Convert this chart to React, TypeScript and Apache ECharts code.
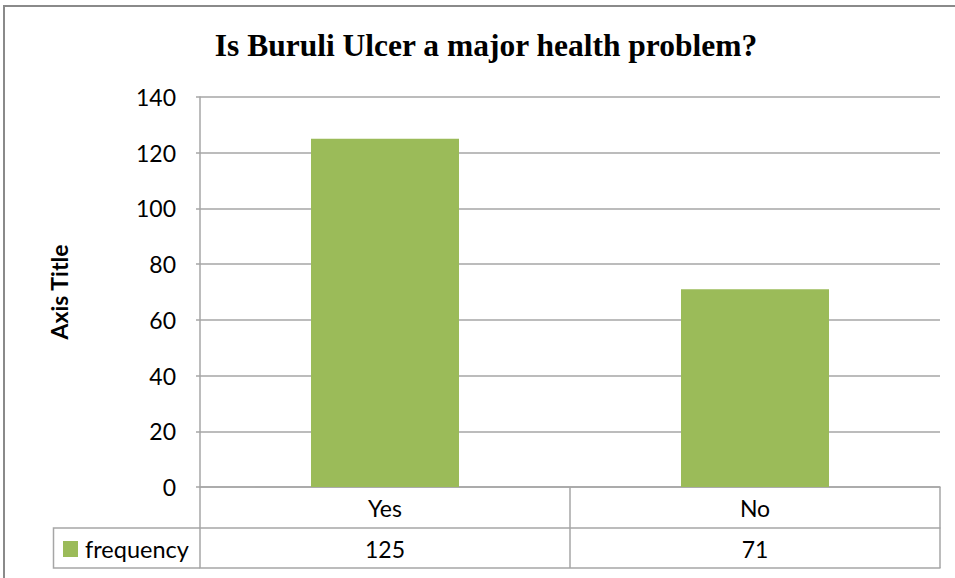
import React, { useEffect, useRef } from "react";
import * as echarts from "echarts";

const categories = ["Yes", "No"];
const frequency = [125, 71];
const seriesName = "frequency";
const titleText = "Is Buruli Ulcer a major health problem?";
const yAxisTitle = "Axis Title";

const GRAY = "#a6a6a6";
const GREEN = "#9bbb59";
const FONT = "Lato, 'Open Sans', sans-serif";

export default function App() {
  const ref = useRef<HTMLDivElement>(null);
  useEffect(() => {
    document.body.style.margin = "0";
    const chart = echarts.init(ref.current!, undefined, { renderer: "svg" });
    chart.setOption({
      animation: false,
      backgroundColor: "#ffffff",
      title: {
        text: titleText,
        left: 486,
        textAlign: "center",
        top: 29,
        padding: 0,
        textStyle: {
          fontFamily: "'Liberation Serif', 'Times New Roman', serif",
          fontWeight: "bold",
          fontSize: 31.5,
          color: "#000",
        },
      },
      legend: {
        left: 63,
        top: 537,
        itemWidth: 15,
        itemHeight: 16,
        itemGap: 6,
        icon: "rect",
        padding: 0,
        textStyle: { fontFamily: FONT, fontSize: 23.5, color: "#000", padding: [0, 0, 0, 2] },
        data: [seriesName],
      },
      grid: { left: 200, right: 15, top: 97, bottom: 91 },
      xAxis: [
        {
          type: "category",
          data: categories,
          position: "bottom",
          axisLine: { show: true, lineStyle: { color: GRAY, width: 1.5 } },
          axisTick: { show: true, alignWithLabel: false, length: 81, lineStyle: { color: GRAY, width: 1.5 } },
          axisLabel: { fontFamily: FONT, fontSize: 23, color: "#000", margin: 9 },
          splitLine: { show: false },
        },
        {
          type: "category",
          data: frequency.map(String),
          position: "bottom",
          offset: 41,
          axisLine: { show: true, lineStyle: { color: GRAY, width: 1.5 } },
          axisTick: { show: false },
          axisLabel: { fontFamily: FONT, fontSize: 23, color: "#000", margin: 9 },
        },
        {
          type: "category",
          data: categories,
          position: "bottom",
          offset: 81,
          axisLine: { show: true, lineStyle: { color: GRAY, width: 1.5 } },
          axisTick: { show: false },
          axisLabel: { show: false },
        },
      ],
      yAxis: {
        type: "value",
        min: 0,
        max: 140,
        interval: 20,
        name: yAxisTitle,
        nameLocation: "middle",
        nameGap: 130,
        nameRotate: 90,
        nameTextStyle: { fontFamily: FONT, fontSize: 23, fontWeight: "bold", color: "#000" },
        axisLine: { show: true, lineStyle: { color: GRAY, width: 1.5 } },
        axisTick: { show: true, length: 4, lineStyle: { color: GRAY, width: 1.5 } },
        axisLabel: { fontFamily: FONT, fontSize: 23, color: "#000", margin: 24 },
        splitLine: { show: true, lineStyle: { color: GRAY, width: 1.5 } },
      },
      series: [
        {
          name: seriesName,
          type: "bar",
          data: frequency,
          barWidth: "40%",
          itemStyle: { color: GREEN },
        },
      ],
      graphic: [
        {
          type: "rect",
          shape: { x: 4, y: 6, width: 1100, height: 1000 },
          style: { fill: "none", stroke: "#8a8a8a", lineWidth: 2 },
          silent: true,
        },
        {
          type: "polyline",
          shape: { points: [[200, 528], [53.5, 528], [53.5, 568], [200, 568]] },
          style: { fill: "none", stroke: GRAY, lineWidth: 1.5 },
          silent: true,
        },
      ],
    });
    return () => chart.dispose();
  }, []);
  return <div ref={ref} style={{ position: "absolute", left: 0, top: 0, width: 955, height: 578 }} />;
}
